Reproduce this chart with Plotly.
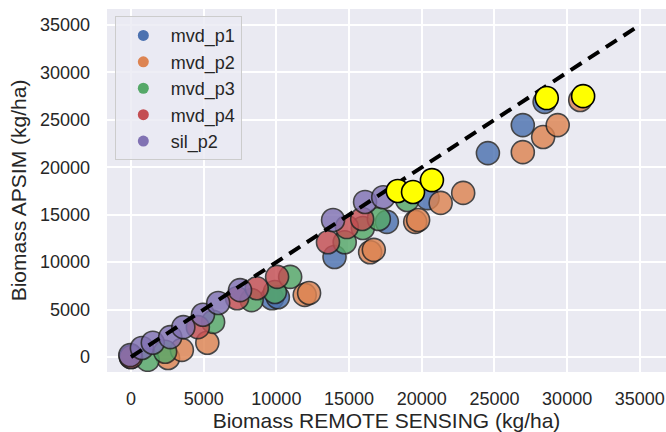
import plotly.graph_objects as go

# ---- data (kg/ha) ----
p1_x = [0, 9700, 10100, 14000, 17600, 20400, 24550, 26950, 28450]
p1_y = [0, 6200, 6300, 10550, 14250, 16750, 21500, 24450, 26900]

p2_x = [2550, 3500, 5250, 11950, 12250, 16450, 16700, 19550, 19750, 21300, 22850, 26950, 28350, 29350, 30900]
p2_y = [-100, 750, 1500, 6550, 6750, 11050, 11300, 14250, 14450, 16250, 17300, 21600, 23200, 24450, 27100]

p3_x = [1150, 2350, 5650, 8300, 9900, 10950, 14700, 15950, 17050, 19000]
p3_y = [-300, 550, 3700, 6000, 6850, 8450, 12100, 13600, 14550, 16550]

p4_x = [0, 4600, 7300, 8650, 10050, 13550, 14850, 15900]
p4_y = [0, 3150, 6200, 7250, 8450, 12100, 13700, 14550]

sil_x = [-50, 750, 1500, 2700, 3600, 4950, 6000, 7500, 13900, 16100, 17350]
sil_y = [200, 950, 1500, 2100, 3150, 4450, 5700, 7050, 14450, 16350, 16850]

hl_x = [18350, 19400, 20700, 28600, 31100]
hl_y = [17500, 17400, 18650, 27300, 27500]

one_to_one = [0, 35000]
tick_vals = [0, 5000, 10000, 15000, 20000, 25000, 30000, 35000]
tick_text = ["0", "5000", "10000", "15000", "20000", "25000", "30000", "35000"]

series = [
    ("mvd_p1", p1_x, p1_y, "#4C72B0"),
    ("mvd_p2", p2_x, p2_y, "#DD8452"),
    ("mvd_p3", p3_x, p3_y, "#55A868"),
    ("mvd_p4", p4_x, p4_y, "#C44E52"),
    ("sil_p2", sil_x, sil_y, "#8172B3"),
]

FONT = "Liberation Sans, Arial, sans-serif"
fig = go.Figure()

for name, xs, ys, col in series:
    fig.add_trace(go.Scatter(
        x=xs, y=ys, mode="markers", name=name, showlegend=False,
        marker=dict(size=23, color=col, opacity=0.82,
                    line=dict(color="#222222", width=1.6)),
    ))

fig.add_trace(go.Scatter(
    x=one_to_one, y=one_to_one, mode="lines", showlegend=False,
    line=dict(color="black", width=4, dash="13px,8px"),
))

fig.add_trace(go.Scatter(
    x=hl_x, y=hl_y, mode="markers", showlegend=False,
    marker=dict(size=23, color="#FFFF00", line=dict(color="black", width=1.6)),
))

# legend-only entries
for name, xs, ys, col in series:
    fig.add_trace(go.Scatter(
        x=[None], y=[None], mode="markers", name=name,
        marker=dict(size=11, color=col),
    ))

fig.update_layout(
    width=666, height=432,
    margin=dict(l=107, r=0, t=9, b=60),
    paper_bgcolor="white",
    plot_bgcolor="#EAEAF2",
    font=dict(family=FONT, size=18, color="#262626"),
    legend=dict(
        x=0.014, y=0.98, xanchor="left", yanchor="top",
        bgcolor="rgba(234,234,242,0.8)", bordercolor="#CCCCCC", borderwidth=1,
        font=dict(family=FONT, size=18, color="#262626"),
        itemwidth=45,
    ),
    xaxis=dict(
        range=[-1650, 36800], tickvals=tick_vals, ticktext=tick_text,
        showgrid=True, gridcolor="white", gridwidth=1.5, zeroline=False,
        showline=False, ticklabelstandoff=14,
        title=dict(text="Biomass REMOTE SENSING (kg/ha)", font=dict(size=21), standoff=5),
    ),
    yaxis=dict(
        range=[-1580, 36690], tickvals=tick_vals, ticktext=tick_text,
        showgrid=True, gridcolor="white", gridwidth=1.5, zeroline=False,
        showline=False, ticklabelstandoff=16,
        title=dict(text="Biomass APSIM (kg/ha)", font=dict(size=21), standoff=7),
    ),
)

fig.write_html("out.html")
